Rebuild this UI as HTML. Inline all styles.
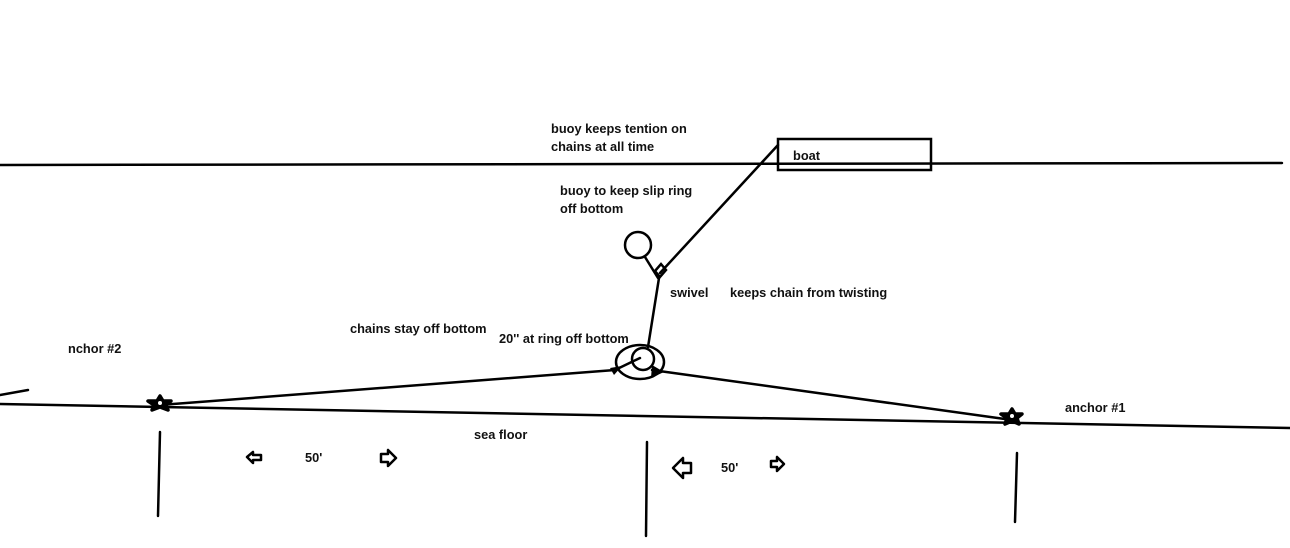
<!DOCTYPE html>
<html><head><style>
html,body{margin:0;padding:0;background:#fff;}
svg{display:block}
text{font-family:"Liberation Sans",sans-serif;font-weight:bold;font-size:12.8px;fill:#111;}
</style></head><body>
<svg width="1290" height="548" xmlns="http://www.w3.org/2000/svg">
<g stroke="#000" fill="none" stroke-width="2.5" stroke-linecap="round">
<line x1="0" y1="165" x2="1282" y2="163"/>
<line x1="0" y1="404" x2="1290" y2="428"/>
<line x1="0" y1="395" x2="28" y2="390"/>
<rect x="778" y="139" width="153" height="31"/>
<line x1="778" y1="145" x2="660" y2="273"/>
<circle cx="638" cy="245" r="13"/>
<line x1="645" y1="257" x2="658" y2="278"/>
<path d="M655 271 L661 264 L666 270 L660 277 Z"/>
<line x1="659" y1="278" x2="648" y2="347"/>
<ellipse cx="640" cy="362" rx="24" ry="17"/>
<circle cx="643" cy="359" r="11"/>
<line x1="160" y1="405" x2="615" y2="370"/>
<line x1="615" y1="370" x2="640" y2="358"/>
<line x1="1012" y1="420" x2="652" y2="370"/>
<line x1="160" y1="432" x2="158" y2="516"/>
<line x1="647" y1="442" x2="646" y2="536"/>
<line x1="1017" y1="453" x2="1015" y2="522"/>
</g>
<g fill="#000">
<path d="M652 365 L664 372 L651 378 Z"/>
<path d="M610 368 L622 366 L614 375 Z"/>
</g>
<g stroke="#000" stroke-width="3.5" fill="#000" stroke-linejoin="round">
<path d="M160 396 L163 401 L171 401 L166 405 L168 410 L160 407 L152 410 L154 405 L148 401 L157 401 Z"/>
<path d="M1012 409 L1015 414 L1022 414 L1017 418 L1019 424 L1012 421 L1005 424 L1007 418 L1001 414 L1009 414 Z"/>
</g>
<g fill="#fff"><circle cx="160" cy="403" r="2"/><circle cx="1012" cy="416" r="2"/></g>
<g stroke="#000" stroke-width="2.5" fill="#fff" stroke-linejoin="round">
<path d="M247 457 L253 452 L253 455 L261 455 L261 460 L253 460 L253 463 Z"/>
<path d="M396 458 L388 450 L388 454 L381 454 L381 462 L388 462 L388 466 Z"/>
<path d="M673 468 L683 458 L683 463 L691 463 L691 473 L683 473 L683 478 Z"/>
<path d="M784 464 L777 457 L777 461 L771 461 L771 467 L777 467 L777 471 Z"/>
</g>
<text x="551" y="133">buoy keeps tention on</text>
<text x="551" y="151">chains at all time</text>
<text x="793" y="160">boat</text>
<text x="560" y="195">buoy to keep slip ring</text>
<text x="560" y="213">off bottom</text>
<text x="670" y="297">swivel</text>
<text x="730" y="297">keeps chain from twisting</text>
<text x="350" y="333">chains stay off bottom</text>
<text x="499" y="343">20'' at ring off bottom</text>
<text x="68" y="353">nchor #2</text>
<text x="1065" y="412">anchor #1</text>
<text x="474" y="439">sea floor</text>
<text x="305" y="462">50'</text>
<text x="721" y="472">50'</text>
</svg>
</body></html>
